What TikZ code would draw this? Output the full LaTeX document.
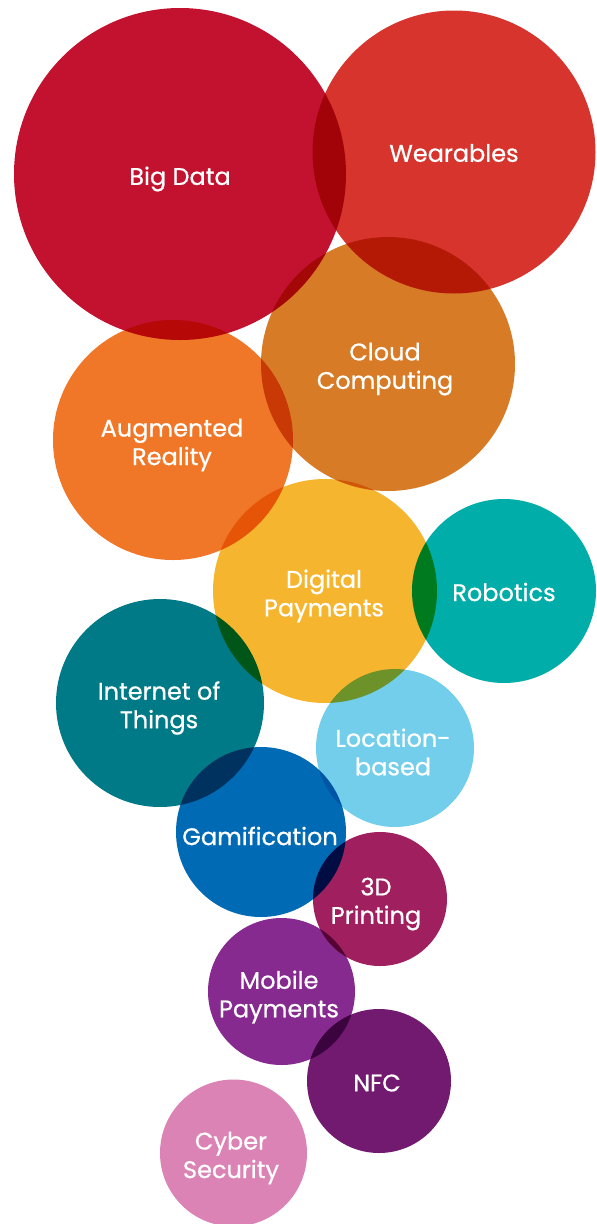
\documentclass[tikz,border=0pt]{standalone}
\usepackage{fontspec}
\setmainfont{Poppins}
\newfontfamily\lblfont{Poppins}[FakeBold=0.7]
\definecolor{cBig}{HTML}{C21230}
\definecolor{cWear}{HTML}{D6342D}
\definecolor{cCloud}{HTML}{D77B27}
\definecolor{cAug}{HTML}{EF7727}
\definecolor{cDig}{HTML}{F6B52E}
\definecolor{cRob}{HTML}{00ADA8}
\definecolor{cIot}{HTML}{007A87}
\definecolor{cLoc}{HTML}{72CEEA}
\definecolor{cGam}{HTML}{006AB4}
\definecolor{cThree}{HTML}{A01F5E}
\definecolor{cMob}{HTML}{862A8F}
\definecolor{cNfc}{HTML}{711A6F}
\definecolor{cCyb}{HTML}{DC83B5}
\tikzset{
  bubble/.style={circle, inner sep=0pt, outer sep=0pt, draw=none, fill=#1, blend mode=multiply},
  lbl/.style={text=white, align=center, inner sep=0pt, yshift=-3pt, font=\lblfont\fontsize{24}{28.5}\selectfont}
}
\begin{document}
\begin{tikzpicture}[x=1pt,y=-1pt]
\fill[white] (0,0) rectangle (597,1224);
\useasboundingbox (0,0) rectangle (597,1224);
% bubbles
\node (bigdata) [bubble=cBig, minimum size=332pt] at (180,174) {};
\node (wear) [bubble=cWear, minimum size=283pt] at (454,152) {};
\node (cloud) [bubble=cCloud, minimum size=254pt] at (388,364) {};
\node (aug) [bubble=cAug, minimum size=240pt] at (173,440) {};
\node (dig) [bubble=cDig, minimum size=224pt] at (325,591) {};
\node (rob) [bubble=cRob, minimum size=184pt] at (504,591) {};
\node (iot) [bubble=cIot, minimum size=208pt] at (160,703) {};
\node (loc) [bubble=cLoc, minimum size=158pt] at (395,748) {};
\node (gam) [bubble=cGam, minimum size=170pt] at (261,832) {};
\node (three) [bubble=cThree, minimum size=134pt] at (380,899) {};
\node (mob) [bubble=cMob, minimum size=147pt] at (281.5,991.5) {};
\node (nfc) [bubble=cNfc, minimum size=144pt] at (379,1081) {};
\node (cyb) [bubble=cCyb, minimum size=147pt] at (233.5,1153) {};
% labels
\node (tBig) [lbl] at (180,176) {Big Data};
\node (tWear) [lbl] at (454,150) {Wearables};
\node (tCloud) [lbl] at (385,366) {Cloud\\Computing};
\node (tAug) [lbl] at (172,442) {Augmented\\Reality};
\node (tDig) [lbl] at (324,593) {Digital\\Payments};
\node (tRob) [lbl] at (504,589) {Robotics};
\node (tIot) [lbl] at (159,705) {Internet of\\Things};
\node (tLoc) [lbl] at (393,749) {Location-\\based};
\node (tGam) [lbl] at (260,833) {Gamification};
\node (tThree) [lbl] at (376,901) {3D\\Printing};
\node (tMob) [lbl] at (279,994) {Mobile\\Payments};
\node (tNfc) [lbl] at (377,1080) {NFC};
\node (tCyb) [lbl] at (231,1155) {Cyber\\Security};
\end{tikzpicture}
\end{document}
